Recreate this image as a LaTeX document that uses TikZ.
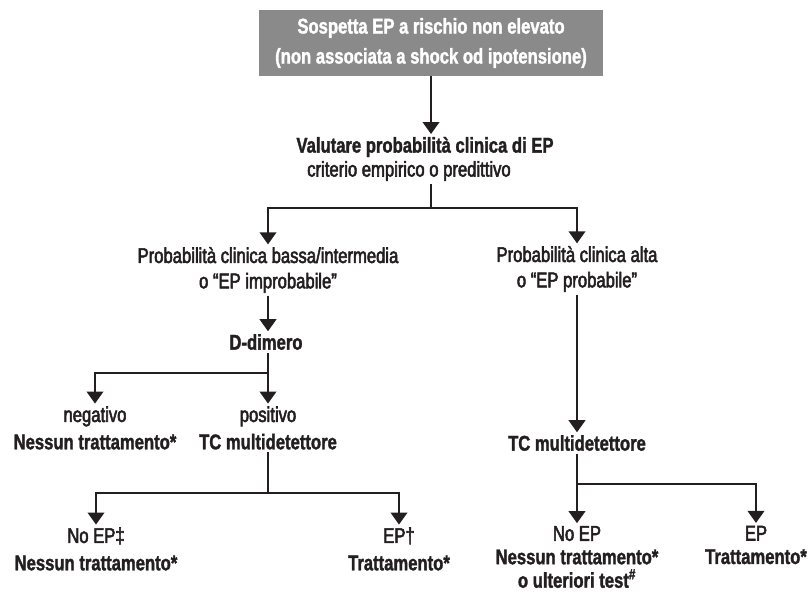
\documentclass[tikz,border=0pt]{standalone}
\usepackage{fontspec}
\setmainfont{Liberation Sans}[FakeStretch=0.78,
  UprightFeatures={FakeBold=2.5}, BoldFeatures={FakeBold=1.5}]
\usetikzlibrary{arrows.meta}

\definecolor{grigio}{HTML}{8A8A8A}
\definecolor{inchiostro}{HTML}{231F20}

\tikzset{
  testo/.style={align=center, inner sep=2pt},
  grassetto/.style={testo, font=\fontsize{16}{19}\selectfont\bfseries},
  esito/.style={testo, font=\fontsize{16}{20.5}\selectfont},
  riquadro/.style={fill=grigio, text=white, align=center, minimum width=258pt,
    minimum height=49.5pt, font=\fontsize{16}{22.5}\selectfont\bfseries},
  linea/.style={line width=1.3pt},
  freccia/.style={linea, -{Triangle[width=12.5pt,length=9pt]}},
}

\begin{document}
\begin{tikzpicture}[x=0.75pt, y=-0.75pt, font=\fontsize{16}{19}\selectfont, color=inchiostro]
  \useasboundingbox (0,0) rectangle (808,596);

  % Riquadro iniziale
  \node[riquadro] (sospetta) at (431,43) {Sospetta EP a rischio non elevato\\(non associata a shock od ipotensione)};

  % Valutazione clinica
  \node[grassetto] (valuta) at (425,147) {Valutare probabilità clinica di EP};
  \node[testo] (criterio) at (409,171) {criterio empirico o predittivo};
  \node[testo] (bassa) at (268,270) {Probabilità clinica bassa/intermedia\\o “EP improbabile”};
  \node[testo] (alta) at (577,269) {Probabilità clinica alta\\o “EP probabile”};

  % Ramo sinistro
  \node[grassetto] (ddimero) at (266,342) {D-dimero};
  \node[esito] (negativo) at (95,428) {negativo\\\textbf{Nessun trattamento*}};
  \node[esito] (positivo) at (268,428) {positivo\\\textbf{TC multidetettore}};
  \node[esito] (noep) at (96,549) {No EP‡\\\textbf{Nessun trattamento*}};
  \node[esito] (ep) at (399,549) {EP†\\\textbf{Trattamento*}};

  % Ramo destro
  \node[grassetto] (tcalta) at (577,443) {TC multidetettore};
  \node[testo, font=\fontsize{16}{17.6}\selectfont] (noepalta) at (577,557) {No EP\\\textbf{Nessun trattamento*}\\\textbf{o ulteriori test\textsuperscript{\#}}};
  \node[testo, font=\fontsize{16}{17.6}\selectfont] (epalta) at (756,545) {EP\\\textbf{Trattamento*}};

  % Punti di diramazione
  \coordinate (j1) at (431,208);
  \coordinate (j2) at (268,373);
  \coordinate (j3) at (268,493);
  \coordinate (j4) at (577,484);

  % Frecce
  \draw[freccia] (sospetta.south) -- (sospetta.south |- valuta.north);
  \draw[linea] (j1 |- criterio.south) -- (j1);
  \draw[freccia] (j1) -| (bassa.north);
  \draw[freccia] (j1) -| (alta.north);
  \draw[freccia] (bassa.south) -- (bassa.south |- ddimero.north);
  \draw[linea] (ddimero.south -| j2) -- (j2);
  \draw[freccia] (j2) -| (negativo.north);
  \draw[freccia] (j2) -- (positivo.north);
  \draw[linea] (positivo.south) -- (j3);
  \draw[freccia] (j3) -| (noep.north);
  \draw[freccia] (j3) -| (ep.north);
  \draw[freccia] (alta.south) -- (tcalta.north);
  \draw[linea] (tcalta.south) -- (j4);
  \draw[freccia] (j4) -- (noepalta.north);
  \draw[freccia] (j4) -| (epalta.north);
\end{tikzpicture}
\end{document}
